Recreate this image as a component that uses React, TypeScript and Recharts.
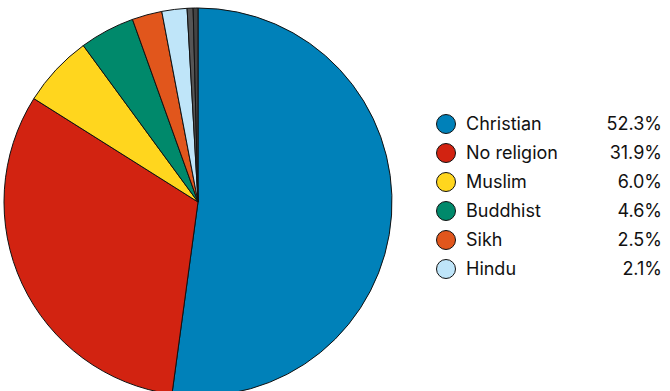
import React from 'react';
import { PieChart, Pie, Cell, Legend } from 'recharts';

const religions = ['Christian', 'No religion', 'Muslim', 'Buddhist', 'Sikh', 'Hindu', 'Other', 'Jewish'];
const shares = [52.3, 31.9, 6.0, 4.6, 2.5, 2.1, 0.5, 0.4];
const colors = ['#0081B9', '#D22311', '#FFD61E', '#00896B', '#E1561C', '#BFE5F9', '#555555', '#444444'];
const legendCount = 6;

const data = religions.map((name, i) => ({ name, value: shares[i] }));

function LegendList() {
  return (
    <div style={{ fontFamily: 'Inter, "Noto Sans", sans-serif', fontSize: 18, color: '#111' }}>
      {data.slice(0, legendCount).map((d, i) => (
        <div key={d.name} style={{ display: 'flex', alignItems: 'center', height: 29 }}>
          <span
            style={{
              width: 20,
              height: 20,
              borderRadius: '50%',
              background: colors[i],
              border: '1.5px solid #111',
              boxSizing: 'border-box',
              marginRight: 10,
            }}
          />
          <span style={{ flex: 1 }}>{d.name}</span>
          <span>{d.value.toFixed(1)}%</span>
        </div>
      ))}
    </div>
  );
}

export default function App() {
  return (
    <div style={{ position: 'absolute', left: 0, top: 0, background: '#fff' }}>
      <PieChart width={670} height={391} margin={{ top: 0, right: 0, bottom: 0, left: 0 }}>
        <Pie
          data={data}
          dataKey="value"
          nameKey="name"
          cx={198}
          cy={202}
          outerRadius={194}
          startAngle={90}
          endAngle={-270}
          stroke="#111"
          strokeWidth={1}
          isAnimationActive={false}
        >
          {data.map((d, i) => (
            <Cell key={d.name} fill={colors[i]} />
          ))}
        </Pie>
        <Legend
          content={<LegendList />}
          layout="vertical"
          wrapperStyle={{ left: 436, top: 109, width: 226 }}
        />
      </PieChart>
    </div>
  );
}
